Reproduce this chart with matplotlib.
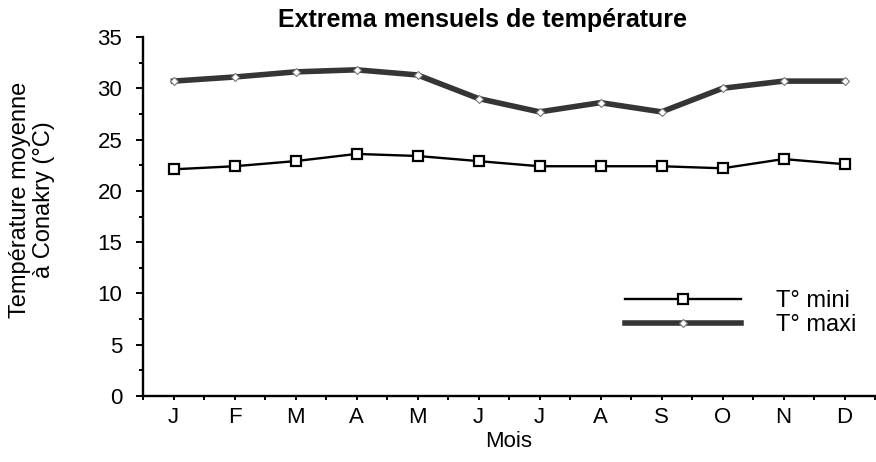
"""Extrema mensuels de température à Conakry (T° mini / T° maxi)."""

import matplotlib

matplotlib.use("Agg")
import matplotlib.pyplot as plt
from matplotlib.ticker import MultipleLocator

plt.rcParams["font.family"] = ["Liberation Sans", "DejaVu Sans"]

MONTHS = ["J", "F", "M", "A", "M", "J", "J", "A", "S", "O", "N", "D"]
T_MINI = [22.1, 22.4, 22.9, 23.6, 23.4, 22.9, 22.4, 22.4, 22.4, 22.2, 23.1, 22.6]
T_MAXI = [30.7, 31.1, 31.6, 31.8, 31.3, 29.0, 27.7, 28.6, 27.7, 30.0, 30.7, 30.7]
LABELS = ["T° mini", "T° maxi"]


def main() -> None:
    fig = plt.figure(figsize=(8.76, 4.62), dpi=100)
    fig.patch.set_facecolor("white")
    ax = fig.add_axes([143 / 876, 1 - 396 / 462, 732 / 876, 359 / 462])

    x = range(len(MONTHS))
    ax.plot(
        x, T_MINI, color="black", lw=1.7, marker="s", markersize=6.5,
        markerfacecolor="white", markeredgecolor="black", markeredgewidth=1.6,
        label=LABELS[0], zorder=3,
    )
    ax.plot(
        x, T_MAXI, color="#353535", lw=4.0, marker="D", markersize=4,
        markerfacecolor="white", markeredgecolor="#777777", markeredgewidth=0.8,
        label=LABELS[1], zorder=3,
    )

    ax.set_xlim(-0.5, len(MONTHS) - 0.5)
    ax.set_ylim(0, 35)
    ax.set_xticks(list(x))
    ax.set_xticklabels(MONTHS)
    ax.xaxis.set_minor_locator(MultipleLocator(1, offset=0.5))
    ax.yaxis.set_major_locator(MultipleLocator(5))
    ax.yaxis.set_minor_locator(MultipleLocator(2.5))

    for side in ("top", "right"):
        ax.spines[side].set_visible(False)
    for side in ("left", "bottom"):
        ax.spines[side].set_linewidth(1.7)

    ax.tick_params(axis="both", which="both", direction="out", width=1.4, labelsize=16)
    ax.tick_params(axis="y", which="major", length=5, pad=10)
    ax.tick_params(axis="y", which="minor", length=3)
    ax.tick_params(axis="x", which="both", length=3, pad=5)

    ax.set_xlabel("Mois", fontsize=16, labelpad=2)
    fig.text(
        32 / 876, 1 - 200 / 462, "Température moyenne\nà Conakry (°C)",
        rotation=90, ha="center", va="center", fontsize=17, linespacing=1.1,
    )
    fig.text(
        483 / 876, 1 - 20 / 462, "Extrema mensuels de température",
        ha="center", va="center", fontsize=18, fontweight="bold",
    )

    fig.legend(
        loc="upper left", bbox_to_anchor=(625 / 876, 1 - 290 / 462),
        frameon=False, fontsize=17, handlelength=4.9, handletextpad=1.5,
        labelspacing=0.1, borderpad=0, borderaxespad=0,
    )

    fig.savefig("out.png", dpi=100)
    plt.close(fig)


if __name__ == "__main__":
    main()
